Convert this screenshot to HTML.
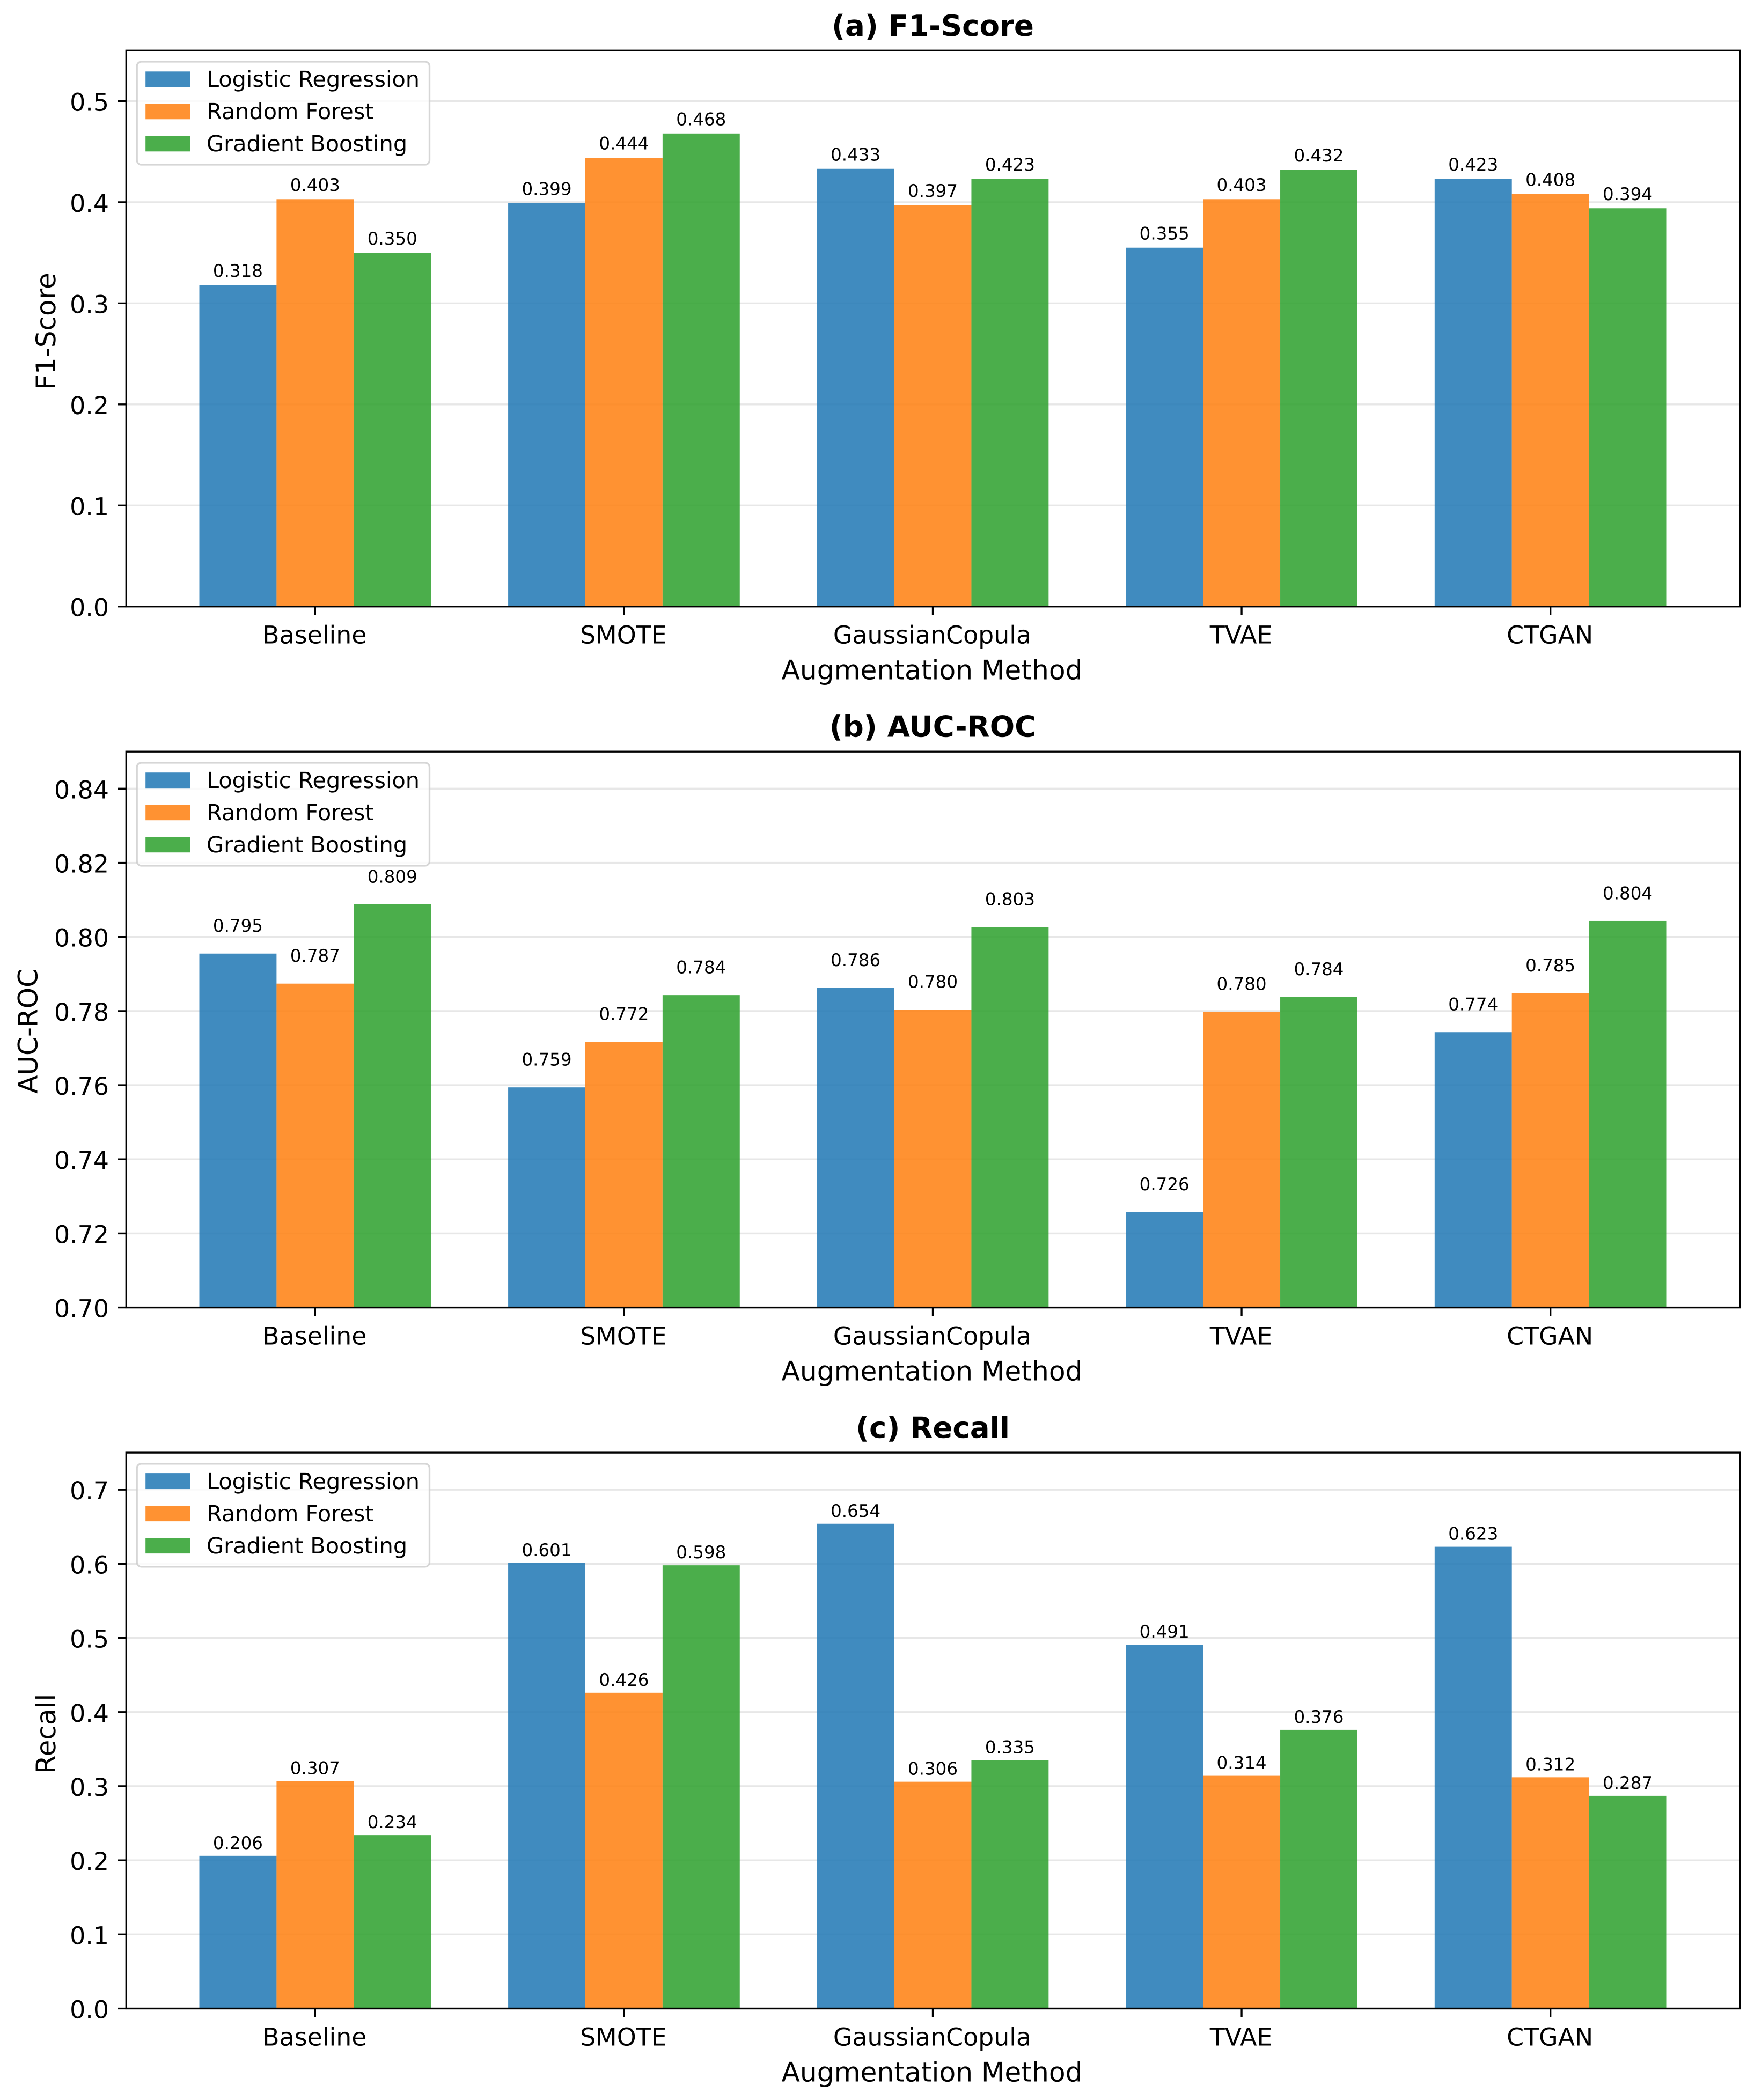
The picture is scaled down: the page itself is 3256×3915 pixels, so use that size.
<!DOCTYPE html>
<html lang="en">
<head>
<meta charset="utf-8">
<title>Model performance by augmentation method</title>
<style>
html,body{margin:0;padding:0;background:#fff;}
svg{display:block;}
text{font-family:"DejaVu Sans","Liberation Sans",sans-serif;fill:#000;text-rendering:geometricPrecision;}
</style>
</head>
<body>
<svg id="chart" xmlns="http://www.w3.org/2000/svg" width="3256" height="3915" viewBox="0 0 3256 3915"></svg>
<script>
const categories = ['Baseline', 'SMOTE', 'GaussianCopula', 'TVAE', 'CTGAN'];
const seriesNames = ['Logistic Regression', 'Random Forest', 'Gradient Boosting'];

const f1Logistic = [0.318, 0.399, 0.433, 0.355, 0.423];
const f1Forest = [0.403, 0.444, 0.397, 0.403, 0.408];
const f1Boosting = [0.350, 0.468, 0.423, 0.432, 0.394];
const f1Ticks = ['0.0', '0.1', '0.2', '0.3', '0.4', '0.5'];

const aucLogistic = [0.7955, 0.7594, 0.7863, 0.7258, 0.7743];
const aucForest = [0.7874, 0.7717, 0.7804, 0.7798, 0.7848];
const aucBoosting = [0.8088, 0.7843, 0.8027, 0.7838, 0.8043];
const aucTicks = ['0.70', '0.72', '0.74', '0.76', '0.78', '0.80', '0.82', '0.84'];

const recallLogistic = [0.206, 0.601, 0.654, 0.491, 0.623];
const recallForest = [0.307, 0.426, 0.306, 0.314, 0.312];
const recallBoosting = [0.234, 0.598, 0.335, 0.376, 0.287];
const recallTicks = ['0.0', '0.1', '0.2', '0.3', '0.4', '0.5', '0.6', '0.7'];

const svg = document.getElementById('chart');
const NS = 'http://www.w3.org/2000/svg';
const seriesColors = ['#1f77b4', '#ff7f0e', '#2ca02c'];
const barWidth = 0.25;
const xMin = -0.6125, xMax = 4.6125;
const plotLeft = 235.3, plotRight = 3242.7, plotHeight = 1036.4;
const spine = 3.33, tickLen = 14.6;

function shape(tag, props, parent) {
  const node = document.createElementNS(NS, tag);
  for (const k in props) node.setAttribute(k, props[k]);
  (parent || svg).appendChild(node);
  return node;
}
function label(str, props, parent) {
  const node = shape('text', props, parent);
  node.textContent = str;
  return node;
}
function xScale(v) {
  return plotLeft - 0.5 + (v - xMin) / (xMax - xMin) * (plotRight - plotLeft);
}

function drawPanel(cfg) {
  const key = cfg.key;
  const top = cfg.top, bottom = top + plotHeight;
  const yScale = v => bottom - (v - cfg.yMin) / (cfg.yMax - cfg.yMin) * plotHeight;

  const g = shape('g', {});
  
  

  const title = label(cfg.title, {x: 1738.5, y: top - 27.5, 'text-anchor': 'middle', 'font-size': 54.6, 'font-weight': 'bold'}, g);
  
  

  cfg.ticks.forEach(t => {
    const y = yScale(parseFloat(t));
    const grid = shape('line', {x1: plotLeft, x2: plotRight, y1: y, y2: y, stroke: '#b0b0b0', 'stroke-opacity': 0.3, 'stroke-width': 3.33}, g);
    
    
    const tick = shape('line', {x1: plotLeft - tickLen - spine / 2, x2: plotLeft, y1: y, y2: y, stroke: '#000', 'stroke-width': 3.33}, g);
    
    
    const tl = label(t, {x: 203, y: y + 18, 'text-anchor': 'end', 'font-size': 45.83}, g);
    
    
  });

  cfg.series.forEach((vals, s) => {
    vals.forEach((v, c) => {
      const cx = c + (s - 1) * barWidth;
      const x0 = xScale(cx - barWidth / 2), x1 = xScale(cx + barWidth / 2);
      const yTop = yScale(v);
      const bar = shape('rect', {x: x0, y: yTop, width: x1 - x0, height: bottom - yTop, fill: seriesColors[s], 'fill-opacity': 0.85}, g);
      
      
      const val = label(v.toFixed(3), {x: (x0 + x1) / 2, y: yScale(v + 0.005) - 6, 'text-anchor': 'middle', 'font-size': 32.5}, g);
      
      
    });
  });

  categories.forEach((name, c) => {
    const x = xScale(c);
    const tick = shape('line', {x1: x, x2: x, y1: bottom, y2: bottom + spine / 2 + tickLen, stroke: '#000', 'stroke-width': 3.33}, g);
    
    
    const tl = label(name, {x: x - 1, y: bottom + 68.8, 'text-anchor': 'middle', 'font-size': 45.83}, g);
    
    
  });

  const xTitle = label('Augmentation Method', {x: 1737, y: bottom + 136, 'text-anchor': 'middle', 'font-size': 50.25}, g);
  
  

  const yMid = (top + bottom) / 2 + cfg.yTitleShift;
  const yTitle = label(cfg.yTitle, {x: cfg.yTitleX, y: yMid, 'text-anchor': 'middle', 'font-size': 50, transform: 'rotate(-90 ' + cfg.yTitleX + ' ' + yMid + ')'}, g);
  
  

  const frame = shape('rect', {x: plotLeft, y: top, width: plotRight - plotLeft, height: plotHeight, fill: 'none', stroke: '#000', 'stroke-width': 3.33}, g);
  
  

  const legend = shape('g', {}, g);
  
  
  const box = shape('rect', {x: 255.2, y: top + 20.7, width: 545.3, height: 192, rx: 8.3, ry: 8.3, fill: '#fff', 'fill-opacity': 0.8, stroke: '#ccc', 'stroke-opacity': 0.8, 'stroke-width': 3.33}, legend);
  
  
  seriesNames.forEach((name, s) => {
    const ly = top + 39 + s * 60;
    const swatch = shape('rect', {x: 271.2, y: ly, width: 83, height: 29, fill: seriesColors[s], 'fill-opacity': 0.85}, legend);
    
    
    const txt = label(name, {x: 385, y: ly + 28.8, 'font-size': 41.4}, legend);
    
    
  });
}

drawPanel({key: 'f1-score', title: '(a) F1-Score', yTitle: 'F1-Score', yTitleX: 103, yTitleShift: 5, top: 94.3, yMin: 0, yMax: 0.55, ticks: f1Ticks, series: [f1Logistic, f1Forest, f1Boosting]});
drawPanel({key: 'auc-roc', title: '(b) AUC-ROC', yTitle: 'AUC-ROC', yTitleX: 69.5, yTitleShift: 3, top: 1401.2, yMin: 0.70, yMax: 0.85, ticks: aucTicks, series: [aucLogistic, aucForest, aucBoosting]});
drawPanel({key: 'recall', title: '(c) Recall', yTitle: 'Recall', yTitleX: 103, yTitleShift: 6, top: 2708.1, yMin: 0, yMax: 0.75, ticks: recallTicks, series: [recallLogistic, recallForest, recallBoosting]});
</script>
</body>
</html>
